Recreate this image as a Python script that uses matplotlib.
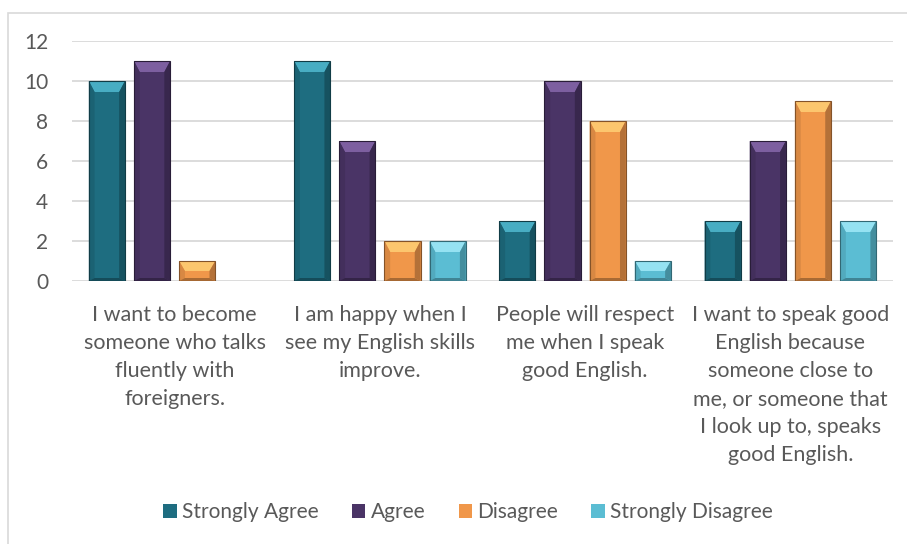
import numpy as np
import matplotlib.pyplot as plt
from matplotlib.patches import Polygon, Rectangle
from matplotlib.colors import to_rgb

plt.rcParams['font.family'] = ['Lato', 'DejaVu Sans']

categories = [
    "I want to become\nsomeone who talks\nfluently with\nforeigners.",
    "I am happy when I\nsee my English skills\nimprove.",
    "People will respect\nme when I speak\ngood English.",
    "I want to speak good\nEnglish because\nsomeone close to\nme, or someone that\nI look up to, speaks\ngood English.",
]
series_names = ["Strongly Agree", "Agree", "Disagree", "Strongly Disagree"]
strongly_agree = [10, 11, 3, 3]
agree = [11, 7, 10, 7]
disagree = [1, 2, 8, 9]
strongly_disagree = [0, 2, 1, 3]
colors = ["#1e6d80", "#4a3466", "#f0974a", "#5bbdd3"]
highlights = ["#48adc3", "#7d5fa0", "#fcc66e", "#95e2f2"]

text_color = "#595959"
grid_color = "#d9d9d9"
fs = 15


def shade(c, f):
    r = np.array(to_rgb(c))
    if f >= 0:
        return tuple(r + (1 - r) * f)
    return tuple(r * (1 + f))


def bevel(ax, rect, color, top):
    # chamfered look: light top face, darker sides and bottom
    x0, w, h = rect.get_x(), rect.get_width(), rect.get_height()
    if h <= 0:
        return
    x1 = x0 + w
    bx = w * 0.16
    by = min(0.55, h / 2)
    inner_top = h - by
    inner_bot = min(0.15, h / 4)
    ax.add_patch(Polygon([(x0, h), (x1, h), (x1 - bx, inner_top), (x0 + bx, inner_top)],
                         closed=True, facecolor=top, edgecolor='none', zorder=3))
    ax.add_patch(Polygon([(x0, 0), (x0, h), (x0 + bx, inner_top), (x0 + bx, inner_bot)],
                         closed=True, facecolor=shade(color, -0.1), edgecolor='none', zorder=3))
    ax.add_patch(Polygon([(x1, 0), (x1, h), (x1 - bx, inner_top), (x1 - bx, inner_bot)],
                         closed=True, facecolor=shade(color, -0.25), edgecolor='none', zorder=3))
    ax.add_patch(Polygon([(x0, 0), (x1, 0), (x1 - bx, inner_bot), (x0 + bx, inner_bot)],
                         closed=True, facecolor=shade(color, -0.3), edgecolor='none', zorder=3))
    ax.add_patch(Rectangle((x0, 0), w, h, facecolor='none',
                           edgecolor=shade(color, -0.45), linewidth=0.8, zorder=4))


fig = plt.figure(figsize=(9.07, 5.44), dpi=100)
# chart frame
fig.patches.append(Rectangle((8 / 907, -0.1), 1.2, 1 - 13 / 544 + 0.1, transform=fig.transFigure,
                             facecolor='none', edgecolor=grid_color, linewidth=1.2, zorder=0))
ax = fig.add_axes([72 / 907, 1 - 281 / 544, (893 - 72) / 907, 240 / 544])
ax.set_facecolor('none')

x = np.arange(len(categories))
pitch = 0.22
width = 0.176
all_series = [strongly_agree, agree, disagree, strongly_disagree]
handles = []
for i, (name, vals, col, hl) in enumerate(zip(series_names, all_series, colors, highlights)):
    offs = (i - 1.5) * pitch
    bars = ax.bar(x + offs, vals, width, color=col, label=name, zorder=2)
    for b in bars:
        bevel(ax, b, col, hl)
    handles.append(bars)

ax.set_xlim(-0.5, len(categories) - 0.5)
ax.set_ylim(0, 12)
ax.set_yticks(range(0, 13, 2))
ax.yaxis.grid(True, color=grid_color, linewidth=1.3, zorder=0)
ax.set_axisbelow(True)
for s in ax.spines.values():
    s.set_visible(False)
ax.tick_params(axis='both', length=0, colors=text_color, labelsize=fs)
ax.tick_params(axis='y', pad=17)
ax.tick_params(axis='x', pad=17)
ax.set_xticks(x)
ax.set_xticklabels(categories, linespacing=1.5)
for lbl in ax.get_xticklabels():
    lbl.set_fontsize(15.5)

leg = fig.legend(handles, series_names, loc='center', bbox_to_anchor=(468 / 907, 1 - 512 / 544),
                 ncol=4, frameon=False, fontsize=fs, handlelength=0.65, handleheight=0.65,
                 handletextpad=0.25, columnspacing=1.6)
for t in leg.get_texts():
    t.set_color(text_color)

fig.savefig('out.png', dpi=100, facecolor='white')
